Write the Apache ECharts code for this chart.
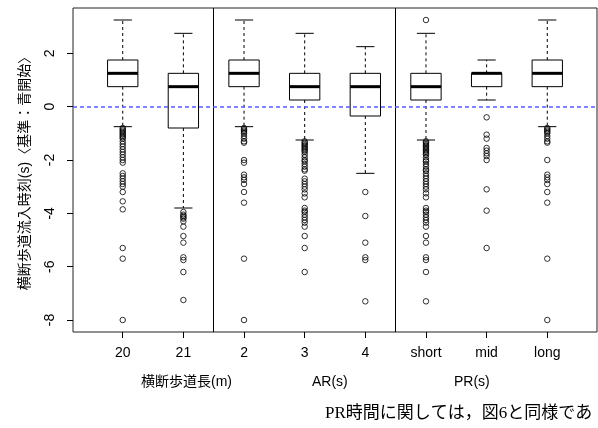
<!DOCTYPE html>
<html>
<head>
    <meta charset="utf-8">
    <script src="https://cdn.jsdelivr.net/npm/echarts@6/dist/echarts.min.js"></script>
    <style>
        body { margin: 0; background: #fff; }
    </style>
</head>
<body>
<div id="main" style="width: 598px;height:428px;"></div>
<script type="text/javascript">
    // カテゴリ
    var categories = ['20', '21', '2', '3', '4', 'short', 'mid', 'long'];
    var groupNames = ['横断歩道長(m)', 'AR(s)', 'PR(s)'];
    var yTicks = [-8, -6, -4, -2, 0, 2];

    // 箱ひげ: [下ひげ, Q1, 中央値, Q3, 上ひげ]
    var boxStats = [
        [-0.75, 0.75, 1.25, 1.75, 3.25],
        [-3.8, -0.8, 0.75, 1.25, 2.75],
        [-0.75, 0.75, 1.25, 1.75, 3.25],
        [-1.25, 0.25, 0.75, 1.25, 2.75],
        [-2.5, -0.35, 0.75, 1.25, 2.25],
        [-1.25, 0.25, 0.75, 1.25, 2.75],
        [0.25, 0.75, 1.25, 1.25, 1.75],
        [-0.75, 0.75, 1.25, 1.75, 3.25]
    ];

    // 外れ値
    var out20 = [-0.8, -0.85, -0.9, -0.95, -1.0, -1.05, -1.1, -1.15, -1.2, -1.3, -1.4, -1.5, -1.6, -1.7, -1.8, -1.9, -2.0, -2.1,
        -2.5, -2.6, -2.7, -2.8, -2.9, -3.0, -3.2, -3.55, -3.85, -5.3, -5.7, -8.0];
    var out21 = [-3.95, -4.05, -4.1, -4.15, -4.2, -4.3, -4.5, -4.85, -5.1, -5.65, -5.75, -6.2, -7.25];
    var out2 = [-0.8, -0.85, -0.9, -0.95, -1.0, -1.1, -1.2, -1.3, -1.35, -2.0, -2.1, -2.55, -2.65, -2.75, -2.9, -3.2, -3.6, -5.7, -8.0];
    var out3 = [-1.3, -1.35, -1.4, -1.45, -1.5, -1.55, -1.6, -1.65, -1.7, -1.8, -1.9, -2.0, -2.05, -2.15, -2.25, -2.35, -2.4,
        -2.7, -2.8, -2.9, -3.0, -3.1, -3.25, -3.4, -3.8, -3.9, -3.95, -4.05, -4.15, -4.25, -4.35, -4.5, -4.85, -5.3, -6.2];
    var out4 = [-3.2, -4.1, -5.1, -5.65, -5.75, -7.3];
    var outShort = [3.25, -1.3, -1.35, -1.4, -1.45, -1.5, -1.55, -1.6, -1.65, -1.7, -1.75, -1.8, -1.9, -2.0, -2.05, -2.15, -2.25,
        -2.35, -2.4, -2.5, -2.6, -2.7, -2.8, -2.9, -3.0, -3.1, -3.25, -3.4, -3.8, -3.9, -3.95, -4.05, -4.15, -4.25, -4.35, -4.5,
        -4.85, -5.1, -5.65, -5.75, -6.2, -7.3];
    var outMid = [-0.4, -1.05, -1.2, -1.55, -1.65, -1.75, -1.85, -2.0, -3.1, -3.9, -5.3];
    var outLong = [-0.8, -0.85, -0.9, -0.95, -1.0, -1.1, -1.2, -1.3, -1.35, -2.0, -2.55, -2.65, -2.75, -2.9, -3.2, -3.6, -5.7, -8.0];
    var outliers = [out20, out21, out2, out3, out4, outShort, outMid, outLong];

    var boxData = boxStats.map(function (s, i) { return [i].concat(s); });
    var outData = [];
    outliers.forEach(function (list, i) {
        list.forEach(function (v) { outData.push([i, v]); });
    });

    var FONT = "'Liberation Sans', 'Noto Sans CJK JP', sans-serif";

    function renderBox(params, api) {
        var x = api.value(0);
        var lo = api.coord([x, api.value(1)]);
        var q1 = api.coord([x, api.value(2)]);
        var md = api.coord([x, api.value(3)]);
        var q3 = api.coord([x, api.value(4)]);
        var hi = api.coord([x, api.value(5)]);
        var hw = api.size([0.25, 0])[0];
        var cw = api.size([0.15, 0])[0];
        var cx = lo[0];
        var dash = {stroke: '#000', lineWidth: 1, lineDash: [3, 3]};
        var solid = {stroke: '#000', lineWidth: 1};
        return {
            type: 'group',
            children: [
                {type: 'line', shape: {x1: cx, y1: q3[1], x2: cx, y2: hi[1]}, style: dash},
                {type: 'line', shape: {x1: cx, y1: q1[1], x2: cx, y2: lo[1]}, style: dash},
                {type: 'line', shape: {x1: cx - cw, y1: hi[1], x2: cx + cw, y2: hi[1]}, style: solid},
                {type: 'line', shape: {x1: cx - cw, y1: lo[1], x2: cx + cw, y2: lo[1]}, style: solid},
                {type: 'rect', shape: {x: cx - hw, y: q3[1], width: 2 * hw, height: q1[1] - q3[1]},
                    style: {fill: 'none', stroke: '#000', lineWidth: 1}},
                {type: 'line', shape: {x1: cx - hw, y1: md[1], x2: cx + hw, y2: md[1]},
                    style: {stroke: '#000', lineWidth: 3}}
            ]
        };
    }

    var myChart = echarts.init(document.getElementById('main'));
    var option = {
        animation: false,
        textStyle: {fontFamily: FONT},
        grid: {
            left: 73, top: 8, width: 524, height: 324,
            show: true, borderColor: '#222', borderWidth: 1
        },
        xAxis: {
            type: 'value',
            min: -0.82, max: 7.82,
            axisLine: {show: false, onZero: false},
            axisTick: {show: true, length: 6, customValues: [0, 1, 2, 3, 4, 5, 6, 7], lineStyle: {color: '#000'}},
            axisLabel: {
                customValues: [0, 1, 2, 3, 4, 5, 6, 7],
                margin: 14, fontSize: 14, color: '#000', fontFamily: FONT,
                formatter: function (v) { return categories[Math.round(v)]; }
            },
            splitLine: {show: false}
        },
        yAxis: {
            type: 'value',
            min: -8.45, max: 3.7,
            name: '横断歩道流入時刻(s)〈基準：青開始〉',
            nameLocation: 'middle', nameGap: 41, nameRotate: 90,
            nameTextStyle: {fontSize: 14, color: '#000', fontFamily: FONT},
            axisLine: {show: false, onZero: false},
            axisTick: {show: true, length: 6, customValues: yTicks, lineStyle: {color: '#000'}},
            axisLabel: {
                customValues: yTicks, rotate: 90, margin: 16,
                fontSize: 14, color: '#000', fontFamily: FONT
            },
            splitLine: {show: false}
        },
        graphic: [
            {type: 'text', left: 141, top: 375, style: {text: groupNames[0], font: '14px ' + FONT, fill: '#000'}},
            {type: 'text', left: 312, top: 375, style: {text: groupNames[1], font: '14px ' + FONT, fill: '#000'}},
            {type: 'text', left: 454, top: 375, style: {text: groupNames[2], font: '14px ' + FONT, fill: '#000'}},
            {type: 'text', left: 325, top: 405,
                style: {text: 'PR時間に関しては，図6と同様であ', font: "17px 'Liberation Serif', 'Noto Sans CJK JP', serif", fill: '#000'}}
        ],
        series: [
            {
                type: 'custom',
                renderItem: renderBox,
                encode: {x: 0, y: [1, 2, 3, 4, 5]},
                data: boxData,
                z: 3
            },
            {
                type: 'scatter',
                symbol: 'circle',
                symbolSize: 5.5,
                itemStyle: {color: 'rgba(0,0,0,0)', borderColor: '#000', borderWidth: 1},
                data: outData,
                z: 4,
                markLine: {
                    silent: true,
                    symbol: 'none',
                    label: {show: false},
                    data: [
                        {xAxis: 1.5, lineStyle: {color: '#000', width: 1, type: 'solid'}},
                        {xAxis: 4.5, lineStyle: {color: '#000', width: 1, type: 'solid'}},
                        {yAxis: 0, lineStyle: {color: '#5b5bff', width: 1.5, type: [4, 3]}}
                    ]
                }
            }
        ]
    };
    myChart.setOption(option);
</script>
</body>
</html>
